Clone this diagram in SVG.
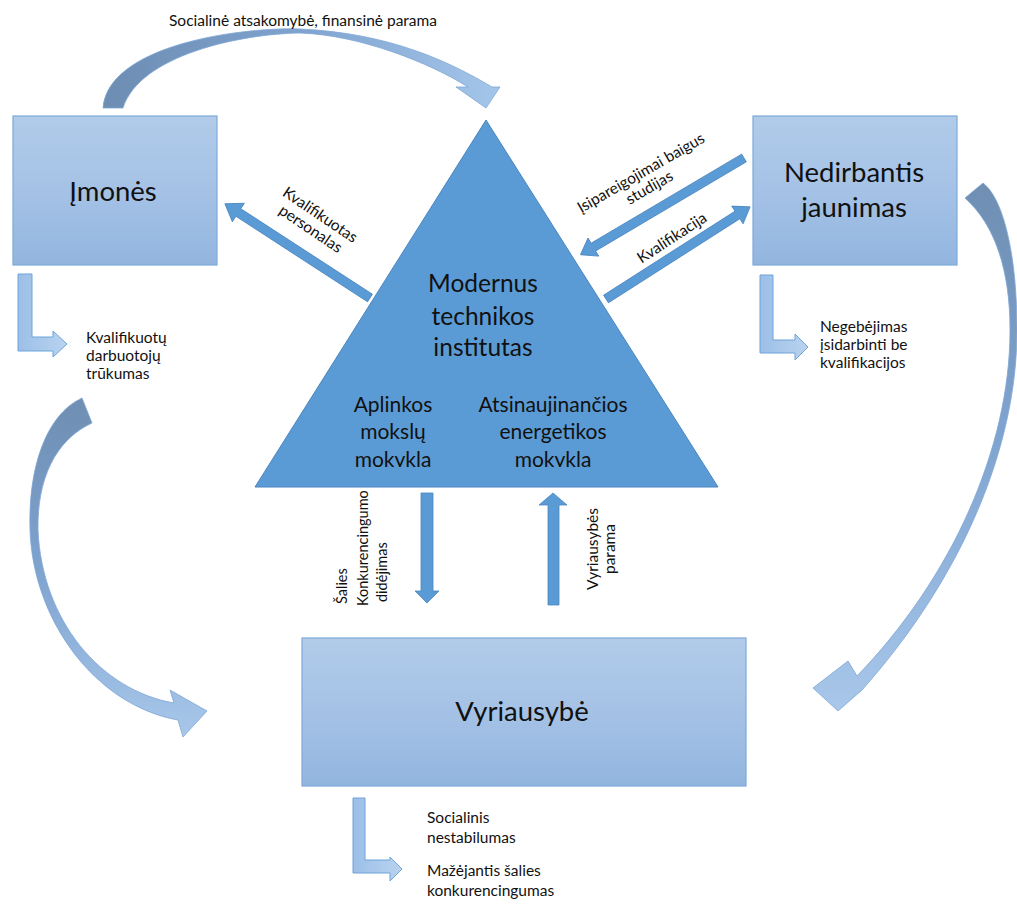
<svg xmlns="http://www.w3.org/2000/svg" width="1017" height="908" viewBox="0 0 1017 908">
<defs>
<style>
.box{stroke:#7DAAD9;stroke-width:1.2;fill:url(#boxGrad)}
.big{font-family:Lato,"Liberation Sans",sans-serif;font-size:27.5px;fill:#111;text-anchor:middle}
.tri{font-family:Lato,"Liberation Sans",sans-serif;fill:#111;text-anchor:middle}
.lbl{font-family:Lato,"Liberation Sans",sans-serif;font-size:15.5px;fill:#111}
.vl{font-size:14.5px}
.mid{text-anchor:middle}
.sarrow{fill:#5B9BD5;stroke:#4A86C0;stroke-width:0.8}
.bent{fill:url(#bentGrad);stroke:#6FA3DA;stroke-width:1}
.curve{stroke:#7FA7D6;stroke-width:0.8}
</style>
<linearGradient id="boxGrad" x1="0" y1="0" x2="0" y2="1">
<stop offset="0" stop-color="#B1CBE9"/>
<stop offset="0.5" stop-color="#A5C2E6"/>
<stop offset="1" stop-color="#92B5DF"/>
</linearGradient>
<linearGradient id="bentGrad" x1="0" y1="0" x2="1" y2="0">
<stop offset="0" stop-color="#9CBFE7"/>
<stop offset="1" stop-color="#B9D3F0"/>
</linearGradient>
<linearGradient id="topGrad" x1="0" y1="0" x2="1" y2="0">
<stop offset="0" stop-color="#6D8DB2"/>
<stop offset="0.5" stop-color="#7FA3CF"/>
<stop offset="1" stop-color="#A5C6EA"/>
</linearGradient>
<linearGradient id="leftGrad" x1="0" y1="0" x2="0" y2="1">
<stop offset="0" stop-color="#6F8EB2"/>
<stop offset="0.5" stop-color="#7EA3CF"/>
<stop offset="1" stop-color="#A8C7EA"/>
</linearGradient>
<linearGradient id="rightGrad" x1="0" y1="0" x2="0" y2="1">
<stop offset="0" stop-color="#6F8EB2"/>
<stop offset="0.5" stop-color="#80A5D1"/>
<stop offset="1" stop-color="#A8C7EA"/>
</linearGradient>
<clipPath id="triClip"><rect x="250" y="110" width="480" height="357"/></clipPath>
</defs>
<rect width="1017" height="908" fill="#fff"/>

<g id="connectors">
<!-- top curved arrow -->
<path class="curve" fill="url(#topGrad)" d="M103,108 C108,45 240,27 300,29 C390,33 450,62 492,87 L500,87 L486,108 L456,87 L468,87 C430,63 360,35 300,33 C240,34 140,55 123,108 Z"/>
<text class="lbl mid" x="303" y="26">Socialinė atsakomybė, finansinė parama</text>

<!-- left curved arrow -->
<path class="curve" fill="url(#leftGrad)" d="M82,398 C45,415 28,470 30,530 C33,620 95,705 178,720 L183,737 L207,711 L170,690 L174,703 C100,690 42,620 38,530 C37,480 55,440 92,423 Z"/>

<!-- right curved arrow -->
<path class="curve" fill="url(#rightGrad)" d="M983,183 C1005,200 1017,260 1017,330 C1017,450 960,580 862,690 L838,711 L813,688 L848,661 L857,676 C950,580 1010,450 1010,330 C1010,270 995,225 965,198 Z"/>

<!-- straight arrows -->
<polygon class="sarrow" transform="translate(370,298) rotate(213)" points="0,-4.5 157,-4.5 157,-11 173,0 157,11 157,4.5 0,4.5"/>
<polygon class="sarrow" transform="translate(744,158) rotate(149.4)" points="0,-4.5 175,-4.5 175,-10.5 190,0 175,10.5 175,4.5 0,4.5"/>
<polygon class="sarrow" transform="translate(606,299) rotate(-32.6)" points="0,-4.5 156,-4.5 156,-10.5 171,0 156,10.5 156,4.5 0,4.5"/>
<polygon class="sarrow" points="421,493 433,493 433,591 439,591 427,603 415,591 421,591"/>
<polygon class="sarrow" points="548,605 559,605 559,505 567,505 553,493 539,505 548,505"/>

<!-- straight arrow labels -->
<g transform="translate(320,215) rotate(34)">
<text class="lbl mid" x="0" y="5">Kvalifikuotas</text>
<text class="lbl mid" x="0" y="22">personalas</text>
</g>
<g transform="translate(641,173) rotate(-30)">
<text class="lbl mid" x="0" y="5">Įsipareigojimai baigus</text>
<text class="lbl mid" x="0" y="22">studijas</text>
</g>
<g transform="translate(672,238) rotate(-33)">
<text class="lbl mid" x="0" y="5">Kvalifikacija</text>
</g>
<g transform="rotate(-90)">
<text class="lbl vl" x="-604" y="347">Šalies</text>
<text class="lbl vl" x="-606" y="368">Konkurencingumo</text>
<text class="lbl vl" x="-602" y="387">didėjimas</text>
<text class="lbl mid" x="-549" y="598">Vyriausybės</text>
<text class="lbl mid" x="-549" y="615">parama</text>
</g>

<!-- bent arrows -->
<path class="bent" d="M18,274 L32,274 L32,337 L53,337 L53,331 L67,344 L53,357 L53,351 L18,351 Z"/>
<text class="lbl" x="86" y="343">Kvalifikuotų</text>
<text class="lbl" x="86" y="361">darbuotojų</text>
<text class="lbl" x="86" y="379">trūkumas</text>

<path class="bent" d="M760,275 L773,275 L773,340 L795,340 L795,334 L808,347 L795,360 L795,353 L760,353 Z"/>
<text class="lbl" x="820" y="332">Negebėjimas</text>
<text class="lbl" x="820" y="350">įsidarbinti be</text>
<text class="lbl" x="820" y="368">kvalifikacijos</text>

<path class="bent" d="M353,798 L365,798 L365,860 L390,860 L390,857 L402,869 L390,881 L390,873 L353,873 Z"/>
<text class="lbl" x="427" y="823">Socialinis</text>
<text class="lbl" x="427" y="843">nestabilumas</text>
<text class="lbl" x="427" y="876">Mažėjantis šalies</text>
<text class="lbl" x="427" y="896">konkurencingumas</text>
</g>

<g id="node-imones">
<rect class="box" x="13" y="116" width="204" height="149"/>
<text class="big" x="113" y="201">Įmonės</text>
</g>

<g id="node-nedirbantis">
<rect class="box" x="753" y="116" width="204" height="149"/>
<text class="big" x="854" y="182">Nedirbantis</text>
<text class="big" x="854" y="217">jaunimas</text>
</g>

<g id="node-institutas">
<polygon points="486,120 718,487 255,487" fill="#5B9BD5" stroke="#4A86C0" stroke-width="1"/>
<g clip-path="url(#triClip)">
<text class="tri" font-size="24.5" x="483" y="292">Modernus</text>
<text class="tri" font-size="24.5" x="483" y="325">technikos</text>
<text class="tri" font-size="24.5" x="483" y="356">institutas</text>
<text class="tri" font-size="21" x="393" y="412">Aplinkos</text>
<text class="tri" font-size="21" x="393" y="439">mokslų</text>
<text class="tri" font-size="21" x="393" y="467">mokykla</text>
<text class="tri" font-size="21" x="553" y="412">Atsinaujinančios</text>
<text class="tri" font-size="21" x="553" y="439">energetikos</text>
<text class="tri" font-size="21" x="553" y="467">mokykla</text>
</g>
</g>

<g id="node-vyriausybe">
<rect class="box" x="302" y="638" width="444" height="148"/>
<text class="big" x="522" y="721">Vyriausybė</text>
</g>
</svg>
